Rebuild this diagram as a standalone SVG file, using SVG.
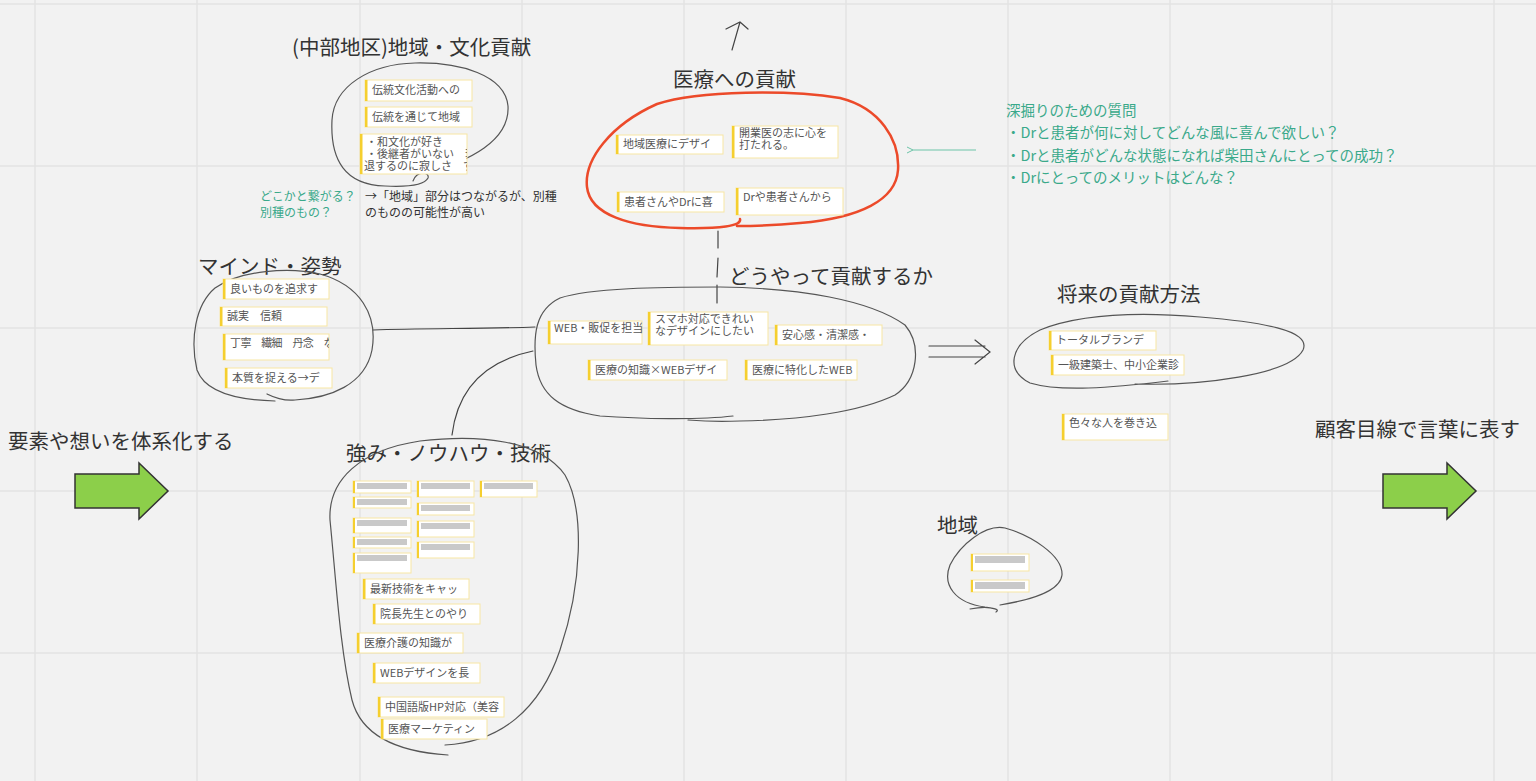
<svg xmlns="http://www.w3.org/2000/svg" width="1536" height="781" viewBox="0 0 1536 781">
<defs>
<style>
.grid{stroke:#e3e3e3;stroke-width:1.5}
.bg{fill:#fff;stroke:#f7e6a3;stroke-width:1}
.bar{fill:#f5cf2f}
.nt{font-family:"Noto Sans CJK JP","Noto Sans",sans-serif;font-size:11px;fill:#555}
.ttl{font-family:"Noto Sans CJK JP","Noto Sans",sans-serif;font-size:20.5px;fill:#333}
.tq{font-family:"Noto Sans CJK JP","Noto Sans",sans-serif;fill:#3aa98a}
.tb{font-family:"Noto Sans CJK JP","Noto Sans",sans-serif;font-size:12px;fill:#333}
.loop{fill:none;stroke:#555;stroke-width:1.2;stroke-linecap:round}
.gb{fill:#c9c9c9}
.con{fill:none;stroke:#444;stroke-width:1.2;stroke-linecap:round}
.garrow{fill:#8ccf4a;stroke:#333;stroke-width:1.5;stroke-linejoin:miter}
</style>
<marker id="tealHead" markerWidth="8" markerHeight="8" refX="1" refY="4" orient="auto" markerUnits="userSpaceOnUse">
<path d="M7,1 L1,4 L7,7" fill="none" stroke="#6cc4a8" stroke-width="1"/>
</marker>
<clipPath id="c1"><rect x="360" y="134" width="107" height="40"/></clipPath>
<clipPath id="c2"><rect x="223" y="334" width="106" height="26"/></clipPath>
</defs>
<rect width="1536" height="781" fill="#f2f2f2"/>
<g id="grid">
<line class="grid" x1="35" y1="0" x2="35" y2="781"/>
<line class="grid" x1="197" y1="0" x2="197" y2="781"/>
<line class="grid" x1="360" y1="0" x2="360" y2="781"/>
<line class="grid" x1="522" y1="0" x2="522" y2="781"/>
<line class="grid" x1="684" y1="0" x2="684" y2="781"/>
<line class="grid" x1="846" y1="0" x2="846" y2="781"/>
<line class="grid" x1="1008" y1="0" x2="1008" y2="781"/>
<line class="grid" x1="1170" y1="0" x2="1170" y2="781"/>
<line class="grid" x1="1332" y1="0" x2="1332" y2="781"/>
<line class="grid" x1="1494" y1="0" x2="1494" y2="781"/>
<line class="grid" x1="0" y1="4" x2="1536" y2="4"/>
<line class="grid" x1="0" y1="166" x2="1536" y2="166"/>
<line class="grid" x1="0" y1="328" x2="1536" y2="328"/>
<line class="grid" x1="0" y1="491" x2="1536" y2="491"/>
<line class="grid" x1="0" y1="653" x2="1536" y2="653"/>
</g>

<g id="connectors">
<path class="con" d="M373 330 C 420 328 480 329 535 327"/>
<path class="con" d="M533 351 C 490 360 458 385 452 435"/>
<path class="con" d="M718 231 L718 248 M718 258 L717 277 M717 285 L717 303"/>
<path class="con" d="M929 346 L985 346 M929 357 L985 357 M975 340 L990 352 L975 364"/>
<line x1="976" y1="150" x2="913" y2="150" stroke="#6cc4a8" stroke-width="1" marker-end="url(#tealHead)"/>
<path class="con" d="M732 50 L740 22 M726 29 L740 22 L748 29"/>
</g>

<g id="cluster-culture">
<text class="ttl" x="292" y="55">(中部地区)地域・文化貢献</text>
<path class="loop" d="M425 172 C 470 162 510 140 508 106 C 505 75 460 62 415 63 C 370 64 334 86 332 120 C 330 160 345 185 385 186 C 405 187 424 186 428 178 C 430 172 417 170 413 181"/>
<g id="n-c1"><rect class="bg" x="365" y="80" width="107" height="21"/><rect class="bar" x="365" y="80" width="2.5" height="21"/><text class="nt" x="372" y="94">伝統文化活動への</text></g>
<g id="n-c2"><rect class="bg" x="365" y="107" width="107" height="20"/><rect class="bar" x="365" y="107" width="2.5" height="20"/><text class="nt" x="372" y="121">伝統を通じて地域</text></g>
<g id="n-c3"><rect class="bg" x="360" y="134" width="107" height="40"/><rect class="bar" x="360" y="134" width="2.5" height="40"/>
<g clip-path="url(#c1)"><text class="nt" font-size="10.5" x="366" y="146">・和文化が好き</text><text class="nt" font-size="10.5" x="366" y="158">・後継者がいない　衰</text><text class="nt" font-size="10.5" x="364" y="170">退するのに寂しさ　す</text></g></g>
<text class="tq" font-size="12" x="260" y="201">どこかと繋がる？</text>
<text class="tq" font-size="12" x="260" y="217">別種のもの？</text>
<text class="tb" x="365" y="201">→「地域」部分はつながるが、別種</text>
<text class="tb" x="365" y="217">のものの可能性が高い</text>
</g>

<g id="cluster-medical">
<text class="ttl" x="673" y="87">医療への貢献</text>
<path d="M740 219 C 742 226 720 229 680 228 C 630 227 590 215 587 187 C 584 160 610 125 657 104 C 700 90 790 90 840 98 C 880 108 900 140 898 170 C 896 200 860 218 800 223 C 770 226 745 226 737 226" fill="none" stroke="#ec4a2a" stroke-width="2.5" stroke-linecap="round"/>
<g id="n-m1"><rect class="bg" x="616" y="135" width="107" height="19"/><rect class="bar" x="616" y="135" width="2.5" height="19"/><text class="nt" x="623" y="148">地域医療にデザイ</text></g>
<g id="n-m2"><rect class="bg" x="732" y="126" width="106" height="32"/><rect class="bar" x="732" y="126" width="2.5" height="32"/><text class="nt" x="739" y="137">開業医の志に心を</text><text class="nt" x="739" y="149">打たれる。</text></g>
<g id="n-m3"><rect class="bg" x="617" y="192" width="107" height="20"/><rect class="bar" x="617" y="192" width="2.5" height="20"/><text class="nt" x="624" y="206">患者さんやDrに喜</text></g>
<g id="n-m4"><rect class="bg" x="736" y="188" width="107" height="27"/><rect class="bar" x="736" y="188" width="2.5" height="27"/><text class="nt" x="743" y="201">Drや患者さんから</text></g>
</g>

<g id="questions">
<text class="tq" font-size="14.5" x="1006" y="116">深掘りのための質問</text>
<text class="tq" font-size="14.5" x="1006" y="138">・Drと患者が何に対してどんな風に喜んで欲しい？</text>
<text class="tq" font-size="14.5" x="1006" y="161">・Drと患者がどんな状態になれば柴田さんにとっての成功？</text>
<text class="tq" font-size="14.5" x="1006" y="183">・Drにとってのメリットはどんな？</text>
</g>

<g id="cluster-mind">
<text class="ttl" x="198" y="274">マインド・姿勢</text>
<path class="loop" d="M267 394 C 275 398 285 401 295 400 C 330 398 365 385 372 350 C 378 315 360 285 320 274 C 290 267 240 270 215 288 C 195 305 190 340 197 370 C 205 392 235 400 275 401"/>
<g id="n-k1"><rect class="bg" x="223" y="279" width="106" height="20"/><rect class="bar" x="223" y="279" width="2.5" height="20"/><text class="nt" x="230" y="293">良いものを追求す</text></g>
<g id="n-k2"><rect class="bg" x="220" y="307" width="107" height="19"/><rect class="bar" x="220" y="307" width="2.5" height="19"/><text class="nt" x="227" y="320">誠実　信頼</text></g>
<g id="n-k3"><rect class="bg" x="223" y="334" width="106" height="26"/><rect class="bar" x="223" y="334" width="2.5" height="26"/><g clip-path="url(#c2)"><text class="nt" x="230" y="347" letter-spacing="-0.6">丁寧　繊細　丹念　な</text></g></g>
<g id="n-k4"><rect class="bg" x="225" y="368" width="107" height="20"/><rect class="bar" x="225" y="368" width="2.5" height="20"/><text class="nt" x="232" y="382">本質を捉える→デ</text></g>
</g>

<g id="cluster-how">
<text class="ttl" x="729" y="284">どうやって貢献するか</text>
<path class="loop" d="M733 416 C 700 420 640 419 600 416 C 560 410 540 395 536 365 C 533 335 535 310 560 298 C 590 288 660 287 720 287 C 800 288 870 300 905 325 C 922 345 918 380 895 395 C 860 412 800 420 740 421 C 720 422 700 421 688 420"/>
<g id="n-h1"><rect class="bg" x="548" y="321" width="94" height="23"/><rect class="bar" x="548" y="321" width="2.5" height="23"/><text class="nt" font-size="10" x="554" y="332">WEB・販促を担当</text></g>
<g id="n-h2"><rect class="bg" x="648" y="312" width="120" height="33"/><rect class="bar" x="648" y="312" width="2.5" height="33"/><text class="nt" font-size="11.5" x="655" y="323">スマホ対応できれい</text><text class="nt" font-size="11.5" x="655" y="335">なデザインにしたい</text></g>
<g id="n-h3"><rect class="bg" x="775" y="325" width="107" height="20"/><rect class="bar" x="775" y="325" width="2.5" height="20"/><text class="nt" x="782" y="339">安心感・清潔感・</text></g>
<g id="n-h4"><rect class="bg" x="588" y="360" width="139" height="20"/><rect class="bar" x="588" y="360" width="2.5" height="20"/><text class="nt" x="595" y="374">医療の知識×WEBデザイ</text></g>
<g id="n-h5"><rect class="bg" x="745" y="360" width="112" height="20"/><rect class="bar" x="745" y="360" width="2.5" height="20"/><text class="nt" x="752" y="374">医療に特化したWEB</text></g>
</g>

<g id="cluster-future">
<text class="ttl" x="1057" y="302">将来の貢献方法</text>
<path class="loop" d="M1135 384 C 1200 386 1290 375 1303 350 C 1312 330 1260 322 1200 317 C 1140 312 1080 314 1040 330 C 1010 345 1005 370 1030 383 C 1060 392 1110 388 1168 381"/>
<g id="n-f1"><rect class="bg" x="1049" y="331" width="107" height="19"/><rect class="bar" x="1049" y="331" width="2.5" height="19"/><text class="nt" x="1056" y="344">トータルブランデ</text></g>
<g id="n-f2"><rect class="bg" x="1051" y="355" width="133" height="20"/><rect class="bar" x="1051" y="355" width="2.5" height="20"/><text class="nt" x="1058" y="369">一級建築士、中小企業診</text></g>
<g id="n-f3"><rect class="bg" x="1062" y="414" width="106" height="26"/><rect class="bar" x="1062" y="414" width="2.5" height="26"/><text class="nt" x="1069" y="427">色々な人を巻き込</text></g>
</g>

<g id="left-label">
<text class="ttl" x="8" y="449">要素や想いを体系化する</text>
<path class="garrow" d="M75 474 L139 474 L139 463 L168 491 L139 519 L139 508 L75 508 Z"/>
</g>
<g id="right-label">
<text class="ttl" x="1315" y="437">顧客目線で言葉に表す</text>
<path class="garrow" d="M1383 474 L1447 474 L1447 463 L1476 491 L1447 519 L1447 508 L1383 508 Z"/>
</g>

<g id="cluster-strength">
<text class="ttl" x="346" y="461">強み・ノウハウ・技術</text>
<path class="loop" d="M448 755 C 400 752 362 738 352 700 C 340 650 336 580 330 520 C 328 480 360 450 420 441 C 480 434 540 440 565 475 C 585 510 582 585 560 650 C 540 710 500 742 445 745"/>
<g id="n-s1"><rect class="bg" x="353" y="481" width="58" height="12"/><rect class="bar" x="353" y="481" width="2" height="12"/><rect class="gb" x="357" y="483" width="50" height="6"/></g>
<g id="n-s2"><rect class="bg" x="353" y="497" width="58" height="11"/><rect class="bar" x="353" y="497" width="2" height="11"/><rect class="gb" x="357" y="499" width="50" height="6"/></g>
<g id="n-s3"><rect class="bg" x="353" y="518" width="58" height="15"/><rect class="bar" x="353" y="518" width="2" height="15"/><rect class="gb" x="357" y="520" width="50" height="6"/></g>
<g id="n-s4"><rect class="bg" x="353" y="537" width="58" height="11"/><rect class="bar" x="353" y="537" width="2" height="11"/><rect class="gb" x="357" y="539" width="50" height="6"/></g>
<g id="n-s5"><rect class="bg" x="353" y="553" width="58" height="20"/><rect class="bar" x="353" y="553" width="2" height="20"/><rect class="gb" x="357" y="555" width="50" height="6"/></g>
<g id="n-s6"><rect class="bg" x="417" y="481" width="57" height="16"/><rect class="bar" x="417" y="481" width="2" height="16"/><rect class="gb" x="421" y="483" width="49" height="6"/></g>
<g id="n-s7"><rect class="bg" x="417" y="503" width="57" height="12"/><rect class="bar" x="417" y="503" width="2" height="12"/><rect class="gb" x="421" y="505" width="49" height="6"/></g>
<g id="n-s8"><rect class="bg" x="417" y="521" width="57" height="16"/><rect class="bar" x="417" y="521" width="2" height="16"/><rect class="gb" x="421" y="523" width="49" height="6"/></g>
<g id="n-s9"><rect class="bg" x="417" y="542" width="57" height="16"/><rect class="bar" x="417" y="542" width="2" height="16"/><rect class="gb" x="421" y="544" width="49" height="6"/></g>
<g id="n-s10"><rect class="bg" x="480" y="481" width="57" height="16"/><rect class="bar" x="480" y="481" width="2" height="16"/><rect class="gb" x="484" y="483" width="49" height="6"/></g>
<g id="n-s11"><rect class="bg" x="363" y="579" width="106" height="20"/><rect class="bar" x="363" y="579" width="2.5" height="20"/><text class="nt" x="370" y="593">最新技術をキャッ</text></g>
<g id="n-s12"><rect class="bg" x="373" y="604" width="107" height="20"/><rect class="bar" x="373" y="604" width="2.5" height="20"/><text class="nt" x="380" y="618">院長先生とのやり</text></g>
<g id="n-s13"><rect class="bg" x="357" y="633" width="106" height="20"/><rect class="bar" x="357" y="633" width="2.5" height="20"/><text class="nt" x="364" y="647">医療介護の知識が</text></g>
<g id="n-s14"><rect class="bg" x="373" y="663" width="107" height="20"/><rect class="bar" x="373" y="663" width="2.5" height="20"/><text class="nt" x="380" y="677">WEBデザインを長</text></g>
<g id="n-s15"><rect class="bg" x="378" y="697" width="126" height="20"/><rect class="bar" x="378" y="697" width="2.5" height="20"/><text class="nt" x="385" y="711">中国語版HP対応（美容</text></g>
<g id="n-s16"><rect class="bg" x="381" y="719" width="106" height="20"/><rect class="bar" x="381" y="719" width="2.5" height="20"/><text class="nt" x="388" y="733">医療マーケティン</text></g>
</g>

<g id="cluster-region">
<text class="ttl" x="937" y="533">地域</text>
<path class="loop" d="M1000 605 C 1030 600 1060 592 1062 575 C 1063 555 1030 535 1005 528 C 985 524 960 545 950 565 C 942 585 955 603 985 607 C 995 608 1000 610 996 612 M970 609 C 980 607 990 607 995 609"/>
<g id="n-r1"><rect class="bg" x="971" y="554" width="58" height="17"/><rect class="bar" x="971" y="554" width="2" height="17"/><rect class="gb" x="975" y="556" width="50" height="7"/></g>
<g id="n-r2"><rect class="bg" x="971" y="580" width="58" height="12"/><rect class="bar" x="971" y="580" width="2" height="12"/><rect class="gb" x="975" y="582" width="50" height="7"/></g>
</g>
</svg>
